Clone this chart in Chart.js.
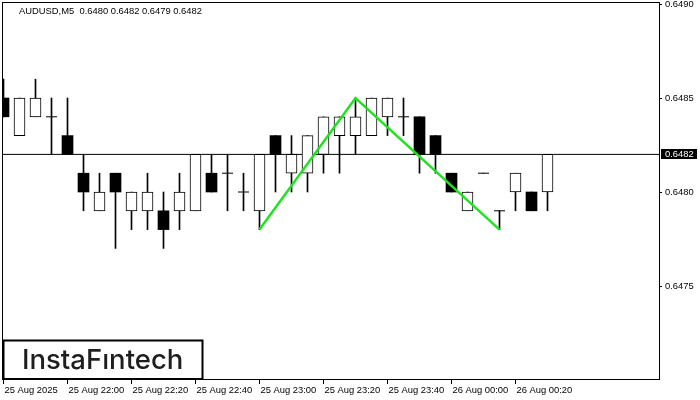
<!DOCTYPE html>
<html>
<head>
<meta charset="utf-8">
<script src="https://cdn.jsdelivr.net/npm/chart.js@4.4.1/dist/chart.umd.min.js"></script>
<style>
  html, body { margin: 0; padding: 0; background: #fff; }
  #wrap { width: 700px; height: 400px; position: relative; }
  canvas { display: block; }
</style>
</head>
<body>
<div id="wrap"><canvas id="c" width="700" height="400"></canvas></div>
<script>
// ---- data (AUDUSD, M5) ----
const symbolTitle = 'AUDUSD,M5';
const opens  = [0.6485,0.6483,0.6484,0.6484,0.6483,0.6481,0.6479,0.6481,0.6479,0.6479,0.6479,0.6479,0.6479,0.6481,0.6481,0.6480,0.6479,0.6483,0.6481,0.6481,0.6482,0.6483,0.6483,0.6483,0.6484,0.6484,0.6484,0.6483,0.6481,0.6479,0.6481,0.6479,0.6480,0.6480,0.6480];
const highs  = [0.6486,0.6485,0.6486,0.6485,0.6485,0.6482,0.6481,0.6481,0.6480,0.6481,0.6480,0.6481,0.6482,0.6482,0.6482,0.6481,0.6482,0.6483,0.6483,0.6483,0.6484,0.6484,0.6485,0.6485,0.6485,0.6485,0.6484,0.6483,0.6481,0.6480,0.6481,0.6479,0.6481,0.6480,0.6482];
const lows   = [0.6484,0.6483,0.6484,0.6482,0.6482,0.6479,0.6479,0.6477,0.6478,0.6478,0.6477,0.6478,0.6479,0.6480,0.6479,0.6479,0.6478,0.6480,0.6480,0.6480,0.6481,0.6481,0.6482,0.6483,0.6483,0.6483,0.6481,0.6481,0.6480,0.6479,0.6481,0.6478,0.6479,0.6479,0.6479];
const closes = [0.6484,0.6485,0.6485,0.6484,0.6482,0.6480,0.6480,0.6480,0.6480,0.6480,0.6478,0.6480,0.6482,0.6480,0.6481,0.6480,0.6482,0.6482,0.6482,0.6483,0.6484,0.6484,0.6484,0.6485,0.6485,0.6484,0.6482,0.6482,0.6480,0.6480,0.6481,0.6479,0.6481,0.6479,0.6482];
// double-top pattern line: candle index and price
const patternIdx    = [16, 22, 31];
const patternPrices = [0.6478, 0.6485, 0.6478];
const currentPrice = 0.6482;
// axis ticks
const timeTickIdx = [0, 4, 8, 12, 16, 20, 24, 28, 32];
const timeTickLabels = ['25 Aug 2025','25 Aug 22:00','25 Aug 22:20','25 Aug 22:40','25 Aug 23:00','25 Aug 23:20','25 Aug 23:40','26 Aug 00:00','26 Aug 00:20'];
const priceTicks = [0.6475, 0.6480, 0.6485, 0.6490];
const priceMin = 0.6470, priceMax = 0.6490;
const visibleSlots = 41;

// ---- build datasets ----
const n = opens.length;
const idx = Array.from({length: n}, (_, i) => i);
const wicks = idx.map(i => ({x: i, y: [lows[i], highs[i]]}));
const bullBodies = idx.filter(i => closes[i] > opens[i]).map(i => ({x: i, y: [opens[i], closes[i]]}));
const bearBodies = idx.filter(i => closes[i] < opens[i]).map(i => ({x: i, y: [closes[i], opens[i]]}));
const dojis = idx.filter(i => closes[i] === opens[i]).map(i => ({x: i, y: opens[i]}));
const header = symbolTitle + '  ' + [opens[n-1], highs[n-1], lows[n-1], closes[n-1]].map(v => v.toFixed(4)).join(' ');

const FONT = 'Liberation Sans';
const framePlugin = {
  id: 'mtFrame',
  afterDraw(chart) {
    const {ctx, chartArea: a, scales} = chart;
    ctx.save();
    // frame
    ctx.strokeStyle = '#000';
    ctx.lineWidth = 1;
    ctx.strokeRect(a.left - 0.5, a.top - 1.5, a.right - a.left + 1, a.bottom - a.top + 1);
    // header
    ctx.fillStyle = '#000';
    ctx.font = '9.4px "' + FONT + '"';
    ctx.textBaseline = 'middle';
    ctx.textAlign = 'left';
    ctx.fillText(header, a.left + 16, 11);
    // current price label
    const py = scales.y.getPixelForValue(currentPrice);
    ctx.fillStyle = '#000';
    ctx.fillRect(a.right + 2, Math.round(py) - 5, 36, 10);
    ctx.fillStyle = '#fff';
    ctx.fillText(currentPrice.toFixed(4), a.right + 6, Math.round(py) + 0.5);
    // logo
    const lx = a.left + 0.5, ly = 340.5, lw = 199, lh = a.bottom - 1 - ly;
    ctx.fillStyle = '#fff';
    ctx.fillRect(lx, ly, lw, lh);
    ctx.lineWidth = 2;
    ctx.strokeStyle = '#000';
    ctx.strokeRect(lx, ly, lw, lh);
    ctx.fillStyle = '#1e1e1e';
    ctx.font = '500 27.5px Inter';
    ctx.textBaseline = 'alphabetic';
    ctx.fillText('InstaF\u0131ntech', 22, 369);
    ctx.restore();
  }
};

new Chart(document.getElementById('c'), {
  data: {
    datasets: [
      { type: 'line', data: [{x: -1, y: currentPrice}, {x: visibleSlots + 1, y: currentPrice}],
        borderColor: '#000', borderWidth: 1, pointRadius: 0, order: 5 },
      { type: 'bar', data: wicks, backgroundColor: '#000', borderWidth: 0,
        barThickness: 1, grouped: false, order: 4 },
      { type: 'bar', data: bullBodies, backgroundColor: '#fff', borderColor: '#000', borderWidth: 1,
        borderSkipped: false, barThickness: 11, grouped: false, order: 3 },
      { type: 'bar', data: bearBodies, backgroundColor: '#000', borderColor: '#000', borderWidth: 0,
        barThickness: 11, grouped: false, order: 3 },
      { type: 'scatter', data: dojis, pointStyle: 'line', pointRadius: 5.5, borderColor: '#000',
        borderWidth: 1, order: 2 },
      { type: 'line', data: patternIdx.map((k, j) => ({x: k, y: patternPrices[j]})),
        borderColor: 'rgb(30,228,30)', borderWidth: 2.5, pointRadius: 0, tension: 0, order: 0 }
    ]
  },
  options: {
    responsive: false,
    animation: false,
    devicePixelRatio: 1,
    layout: { autoPadding: false, padding: { left: 3, top: 4, right: 0, bottom: 0 } },
    plugins: { legend: { display: false }, tooltip: { enabled: false } },
    scales: {
      x: {
        type: 'linear', offset: false,
        min: -1 / 32, max: visibleSlots - 1 / 32,
        grid: { display: true, offset: false, drawOnChartArea: false, drawTicks: true, tickLength: 4, color: '#000' },
        border: { display: false },
        afterBuildTicks: s => { s.ticks = timeTickIdx.map(v => ({value: v})); },
        afterFit: s => { s.height = 20; s.paddingLeft = 0; s.paddingRight = 0; },
        ticks: {
          align: 'start', labelOffset: 1, padding: 1, maxRotation: 0, autoSkip: false,
          color: '#000', font: { family: FONT, size: 9.4 },
          callback: (v, i) => timeTickLabels[i]
        }
      },
      y: {
        position: 'right', min: priceMin, max: priceMax,
        grid: { display: true, drawOnChartArea: false, drawTicks: true, tickLength: 3, color: '#000' },
        border: { display: false },
        afterBuildTicks: s => { s.ticks = priceTicks.map(v => ({value: v})); },
        afterFit: s => { s.width = 41; s.paddingTop = 0; s.paddingBottom = 0; },
        ticks: {
          padding: 3, color: '#000', font: { family: FONT, size: 9.4 },
          crossAlign: 'near',
          callback: v => Number(v).toFixed(4)
        }
      }
    }
  },
  plugins: [framePlugin]
});
</script>
</body>
</html>
